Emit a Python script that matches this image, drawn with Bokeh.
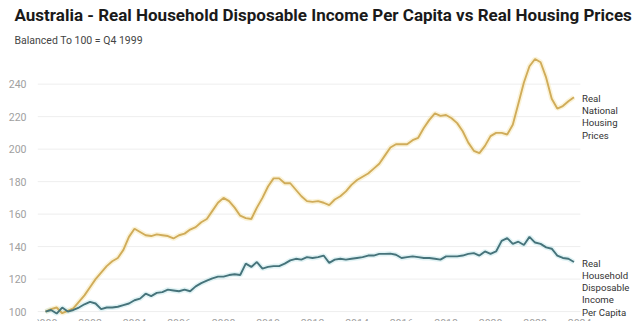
from bokeh.plotting import figure
from bokeh.models import Title, Range1d, FixedTicker
from bokeh.core.properties import value
from bokeh.embed import file_html
from bokeh.resources import INLINE

# quarterly observations, Q4 1999 = 100
start_year = 2000.0
step = 0.25

housing = [100, 101.5, 102.5, 99, 100.5, 102, 106, 110, 115, 120, 124, 128,
           131, 133, 138, 146, 151, 149, 147, 146.5, 147.5, 147, 146.5, 145,
           147, 148, 150.5, 152, 155, 157, 162, 167, 170, 168, 164, 159,
           157.5, 157, 164, 170, 177, 182, 182, 179, 179, 175, 171, 168,
           167.5, 168, 167, 165.5, 169, 171, 174, 178, 181, 183, 185, 188,
           191, 196, 201, 203, 203, 203, 205.5, 207, 213, 218, 222, 220.5,
           221, 219, 216, 211, 204, 199, 197.5, 202, 208, 210, 210, 209,
           215, 228, 241, 251, 255.5, 253.5, 244, 231, 225, 226.5, 229.5, 232]

income = [100, 101, 98.8, 102.5, 100, 101, 102.5, 104.5, 106, 105, 101.5, 102.5,
          102.5, 103, 104, 105, 107, 108, 111, 109.5, 111.5, 112, 113.5, 113,
          112.5, 113.5, 112.5, 115.5, 117.5, 119, 120.5, 121.5, 121.5, 122.5, 123, 122.5,
          129.5, 127.5, 130.5, 126.5, 127.5, 128, 128, 129.5, 131.5, 132.5, 132, 133.5,
          133, 133.5, 134.5, 130, 132, 132.5, 132, 132.5, 133, 133.5, 134.5, 134.5,
          135.5, 135.5, 135.7, 135, 133, 133.5, 134, 133.5, 133, 133, 132.5, 132,
          134, 134, 134, 134.5, 135.5, 136, 134.5, 137, 135.5, 137, 143.5, 145.2,
          141.7, 143, 141, 146, 142.5, 141.7, 139.5, 138.7, 134.5, 133, 132.5, 130.5]

years = [start_year + i * step for i in range(len(housing))]

y_ticks = [100, 120, 140, 160, 180, 200, 220, 240]
x_tick_years = [2000, 2002, 2004, 2006, 2008, 2010, 2012, 2014, 2016, 2018, 2020, 2022, 2024]

title_text = "Australia - Real Household Disposable Income Per Capita vs Real Housing Prices"
subtitle_text = "Balanced To 100 = Q4 1999"
housing_label = "Real\nNational\nHousing\nPrices"
income_label = "Real\nHousehold\nDisposable\nIncome\nPer Capita"

HOUSING_COLOR = "#d0ac5a"
INCOME_COLOR = "#46737a"
FONT = "Roboto"

X_START, X_END = 1999.64, 2026.74
Y_START, Y_END = 93.9, 260.1
GRID_END = 2024.04

p = figure(width=640, height=321, output_backend="svg", toolbar_location=None,
           x_range=Range1d(X_START, X_END), y_range=Range1d(Y_START, Y_END),
           min_border_left=37, min_border_right=0, min_border_bottom=0,
           min_border_top=0, title=None)
p.outline_line_color = None
p.background_fill_color = "white"
p.border_fill_color = "white"

sub = Title(text=subtitle_text, align="left", offset=-23,
            text_font=FONT, text_font_size="10.5px", text_font_style="normal",
            text_color="#444444", standoff=10)
p.add_layout(sub, "above")
main = Title(text=title_text, align="left", offset=-23,
             text_font=FONT, text_font_size="17px", text_font_style="bold",
             text_color="#1a1a1a", standoff=4)
p.add_layout(main, "above")

# horizontal grid lines, ending short of the end labels
p.xgrid.grid_line_color = None
p.ygrid.grid_line_color = None
p.segment(x0=[X_START] * len(y_ticks), y0=y_ticks, x1=[GRID_END] * len(y_ticks), y1=y_ticks,
          line_color="#eeeeee", line_width=1)

# glow + lines
p.line(years, housing, line_color="#f3dc8f", line_width=5, line_alpha=0.35)
p.line(years, income, line_color="#a9dde3", line_width=5, line_alpha=0.35)
p.line(years, housing, line_color=HOUSING_COLOR, line_width=1.9)
p.line(years, income, line_color=INCOME_COLOR, line_width=1.9)

p.xaxis.visible = False

p.yaxis.ticker = FixedTicker(ticks=y_ticks)
p.yaxis.axis_line_color = None
p.yaxis.major_tick_line_color = None
p.yaxis.minor_tick_line_color = None
p.yaxis.major_label_text_color = "#a0a0a0"
p.yaxis.major_label_text_font = FONT
p.yaxis.major_label_text_font_size = "10.5px"
p.yaxis.major_label_standoff = 5

# year labels at the foot of the chart (cut by the page edge, as in the original)
p.text(x=x_tick_years, y=[Y_START] * len(x_tick_years), text=[str(y) for y in x_tick_years],
       y_offset=-3, text_align="center", text_baseline="top", text_font=value(FONT),
       text_font_size="10.5px", text_color="#a0a0a0")

p.text(x=[years[-1]], y=[housing[-1]], text=[housing_label], x_offset=8, y_offset=-4.5,
       text_align="left", text_baseline="top", text_font=value(FONT),
       text_font_size="9.6px", text_line_height=1.12, text_color="#333333")
p.text(x=[years[-1]], y=[income[-1]], text=[income_label], x_offset=8, y_offset=-4.5,
       text_align="left", text_baseline="top", text_font=value(FONT),
       text_font_size="9.6px", text_line_height=1.12, text_color="#333333")

open("out.html", "w").write(file_html(p, INLINE))
